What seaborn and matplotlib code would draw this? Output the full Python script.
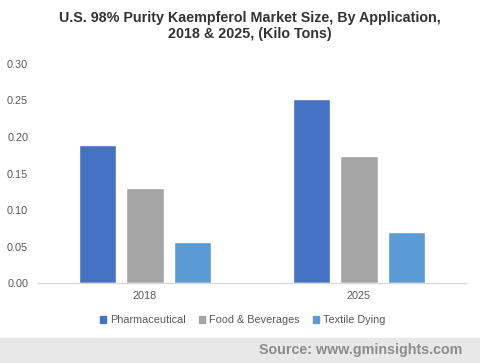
import pandas as pd
import matplotlib.pyplot as plt
import seaborn as sns

# Values
years = ["2018", "2025"]
applications = ["Pharmaceutical", "Food & Beverages", "Textile Dying"]
pharmaceutical = [0.189, 0.252]
food_beverages = [0.130, 0.174]
textile_dying = [0.056, 0.070]
colors = ["#4472C4", "#A5A5A5", "#5B9BD5"]

df = pd.DataFrame({
    "Year": years * 3,
    "Application": [a for a in applications for _ in years],
    "Volume": pharmaceutical + food_beverages + textile_dying,
})

sns.set_style("white")
plt.rcParams["font.family"] = ["Liberation Sans", "DejaVu Sans"]

fig = plt.figure(figsize=(4.8, 3.63), dpi=100)
ax = fig.add_axes([0.079, 0.220, 0.892, 0.604])

sns.barplot(data=df, x="Year", y="Volume", hue="Application",
            hue_order=applications, palette=colors, width=0.663, gap=0.21,
            saturation=1, ax=ax, legend=False)

ax.set_xlim(-0.5, 1.5)
ax.set_ylim(0, 0.30)
ax.set_yticks([0, 0.05, 0.10, 0.15, 0.20, 0.25, 0.30])
ax.set_yticklabels([f"{v:.2f}" for v in ax.get_yticks()])
ax.set_xlabel("")
ax.set_ylabel("")
ax.tick_params(axis="both", length=0, labelsize=7.8, labelcolor="#595959")
ax.tick_params(axis="x", pad=6)
ax.tick_params(axis="y", pad=7)
for s in ["top", "right", "left"]:
    ax.spines[s].set_visible(False)
ax.spines["bottom"].set_color("#d9d9d9")
ax.spines["bottom"].set_linewidth(1)

# Legend
handles = [plt.Rectangle((0, 0), 1, 1, color=c) for c in colors]
fig.legend(handles, applications, loc="center", bbox_to_anchor=(0.505, 0.118),
           ncol=3, frameon=False, fontsize=7.8, handlelength=0.55, handleheight=0.55,
           handletextpad=0.4, columnspacing=1.2, labelcolor="#595959")

fig.suptitle("U.S. 98% Purity Kaempferol Market Size, By Application,\n2018 & 2025, (Kilo Tons)",
             x=0.52, y=0.97, fontsize=10.3, fontweight="bold", color="#333333",
             linespacing=1.2)

# Footer band
fig.patches.append(plt.Rectangle((0, 0), 1, 0.069, transform=fig.transFigure,
                                 color="#e8e8e8", zorder=0))
fig.text(0.963, 0.035, "Source: www.gminsights.com", ha="right", va="center",
         fontsize=10.3, fontweight="bold", color="#8c8c8c")

fig.savefig("out.png", dpi=100)
